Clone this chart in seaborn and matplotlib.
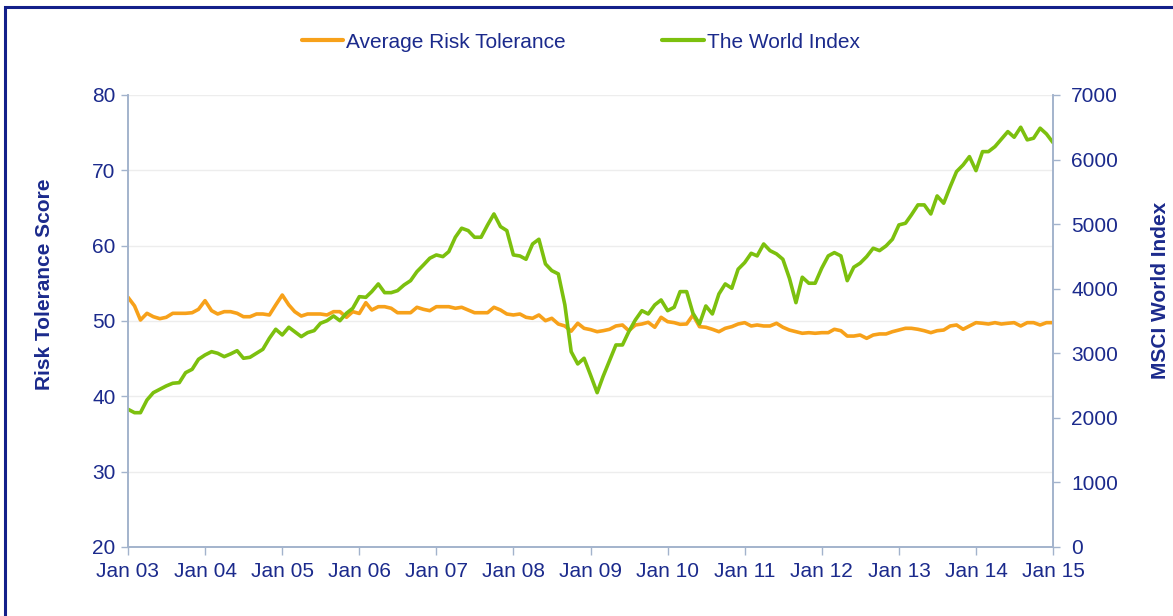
import pandas as pd
import matplotlib.pyplot as plt
import matplotlib.patches as patches
import seaborn as sns

sns.set_style("white")
plt.rcParams["font.family"] = ["Liberation Sans", "DejaVu Sans"]

# -----------------------------
# Data (monthly, Jan 2003 - Jan 2015)
# -----------------------------
months = pd.date_range("2003-01-01", "2015-01-01", freq="MS")

risk_tolerance = [
    53.15, 52.0, 50.13, 51.02, 50.57, 50.31, 50.49, 51.02, 51.02, 51.02, 51.1, 51.55,
    52.7, 51.37, 50.93, 51.24, 51.24, 51.02, 50.57, 50.57, 50.93, 50.93, 50.8, 52.13,
    53.45, 52.13, 51.24, 50.66, 50.93, 50.93, 50.93, 50.8, 51.24, 51.24, 50.49, 51.24,
    51.0, 52.43, 51.46, 51.9, 51.9, 51.69, 51.1, 51.1, 51.1, 51.82, 51.55, 51.37,
    51.9, 51.9, 51.9, 51.69, 51.82, 51.46, 51.1, 51.1, 51.1, 51.82, 51.46, 50.93,
    50.8, 50.93, 50.49, 50.36, 50.8, 50.04, 50.36, 49.6, 49.34, 48.65, 49.7, 49.03,
    48.85, 48.58, 48.71, 48.9, 49.34, 49.47, 48.71, 49.47, 49.6, 49.83, 49.17, 50.49,
    49.91, 49.78, 49.56, 49.6, 50.8, 49.25, 49.17, 48.9, 48.58, 49.03, 49.25, 49.6,
    49.78, 49.34, 49.47, 49.34, 49.34, 49.7, 49.17, 48.8, 48.58, 48.37, 48.45, 48.37,
    48.45, 48.45, 48.9, 48.71, 48.0, 48.0, 48.14, 47.7, 48.14, 48.28, 48.28, 48.58,
    48.8, 49.03, 49.03, 48.9, 48.71, 48.45, 48.71, 48.8, 49.34, 49.47, 48.9, 49.34,
    49.78, 49.7, 49.6, 49.78, 49.6, 49.7, 49.78, 49.34, 49.78, 49.78, 49.47, 49.78,
    49.78,
]

world_index = [
    2133, 2080, 2080, 2277, 2390, 2443, 2494, 2536, 2545, 2700, 2752, 2907,
    2974, 3025, 3000, 2948, 2990, 3040, 2923, 2938, 3000, 3062, 3233, 3372,
    3284, 3403, 3335, 3258, 3320, 3351, 3465, 3505, 3578, 3505, 3620, 3697,
    3877, 3867, 3955, 4074, 3939, 3939, 3970, 4058, 4125, 4264, 4368, 4472,
    4523, 4497, 4574, 4797, 4937, 4900, 4797, 4797, 4988, 5158, 4962, 4900,
    4523, 4507, 4456, 4693, 4766, 4384, 4280, 4229, 3750, 3025, 2835, 2923,
    2660, 2390, 2640, 2890, 3129, 3129, 3335, 3516, 3660, 3609, 3749, 3826,
    3660, 3713, 3955, 3955, 3620, 3454, 3733, 3609, 3919, 4074, 4007, 4302,
    4404, 4549, 4508, 4693, 4590, 4539, 4456, 4162, 3784, 4178, 4085, 4085,
    4317, 4508, 4559, 4508, 4125, 4333, 4395, 4497, 4627, 4590, 4663, 4766,
    4988, 5014, 5143, 5298, 5298, 5158, 5437, 5324, 5581, 5814, 5917, 6046,
    5829, 6123, 6123, 6201, 6315, 6433, 6346, 6501, 6305, 6331, 6486, 6397,
    6263,
]

df = pd.DataFrame({"date": months, "risk": risk_tolerance, "world": world_index})

left_ticks = [20, 30, 40, 50, 60, 70, 80]
right_ticks = [0, 1000, 2000, 3000, 4000, 5000, 6000, 7000]
year_ticks = pd.date_range("2003-01-01", "2015-01-01", freq="YS")
year_labels = [d.strftime("Jan %y") for d in year_ticks]

# -----------------------------
# Style
# -----------------------------
navy = "#1B2A8C"
axis_col = "#A3B3CC"
orange = "#F7A11A"
green = "#7CC00E"

fig = plt.figure(figsize=(11.73, 6.16), dpi=100)
ax = fig.add_axes([128 / 1173, 1 - 547 / 616, 925 / 1173, 452 / 616])
ax2 = ax.twinx()

sns.lineplot(data=df, x="date", y="risk", ax=ax, color=orange, linewidth=2.6,
             label="Average Risk Tolerance", legend=False)
sns.lineplot(data=df, x="date", y="world", ax=ax2, color=green, linewidth=2.6,
             label="The World Index", legend=False)

ax.set_xlim(months[0], months[-1])
ax.set_ylim(20, 80)
ax.set_yticks(left_ticks)
ax2.set_ylim(0, 7000)
ax2.set_yticks(right_ticks)
ax.set_xticks(year_ticks)
ax.set_xticklabels(year_labels)

ax.grid(axis="y", color="#EDEDED", linewidth=1.0)
ax.grid(axis="x", visible=False)
ax.set_axisbelow(True)

for a in (ax, ax2):
    a.spines["top"].set_visible(False)
    for s in ("left", "right", "bottom"):
        a.spines[s].set_color(axis_col)
        a.spines[s].set_linewidth(1.2)

ax.tick_params(axis="y", direction="out", length=5, width=1, color=axis_col,
               labelsize=15, labelcolor=navy, pad=4, left=True)
ax.tick_params(axis="x", direction="out", length=6, width=1, color=axis_col,
               labelsize=15, labelcolor=navy, pad=5, bottom=True)
ax2.tick_params(axis="y", direction="out", length=5, width=1, color=axis_col,
                labelsize=15, labelcolor=navy, pad=8, right=True)

ax.set_xlabel("")
ax.set_ylabel("")
ax2.set_ylabel("")

# axis titles
fig.text(45 / 1173, 1 - 284 / 616, "Risk Tolerance Score", rotation=90, ha="center",
         va="center", fontsize=15, fontweight="bold", color=navy)
fig.text(1160 / 1173, 1 - 290 / 616, "MSCI World Index", rotation=90, ha="center",
         va="center", fontsize=15, fontweight="bold", color=navy)

# legend on top
h1, l1 = ax.get_legend_handles_labels()
h2, l2 = ax2.get_legend_handles_labels()
leg = fig.legend(h1 + h2, l1 + l2, loc="center", bbox_to_anchor=(0.495, 1 - 42 / 616),
                 ncol=2, frameon=False, fontsize=15, handlelength=2.0,
                 handletextpad=0.15, columnspacing=4.6)
for t in leg.get_texts():
    t.set_color(navy)
for ln in leg.get_lines():
    ln.set_linewidth(3)

# dark blue frame around the chart
frame = patches.Rectangle((5 / 1173, -0.1), 1.2, 1 - 7 / 616 + 0.1, transform=fig.transFigure,
                          fill=False, edgecolor="#13208A", linewidth=2.2, clip_on=False)
fig.patches.append(frame)

fig.savefig("out.png", dpi=100)
